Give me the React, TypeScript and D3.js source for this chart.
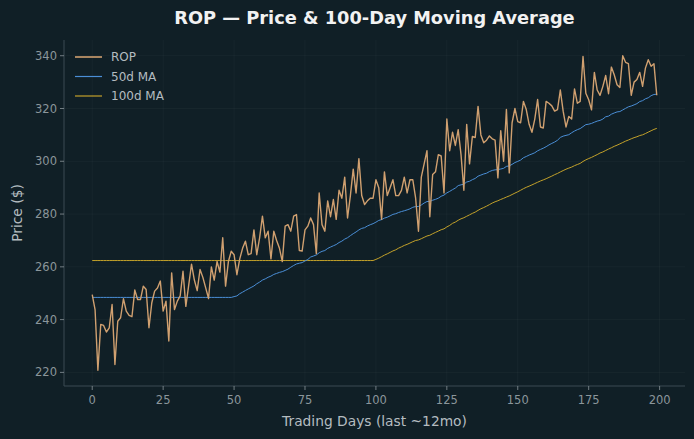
import React from "react";
import * as d3 from "d3";

const TITLE = "ROP — Price & 100-Day Moving Average";
const X_LABEL = "Trading Days (last ~12mo)";
const Y_LABEL = "Price ($)";
const X_TICKS = [0, 25, 50, 75, 100, 125, 150, 175, 200];
const Y_TICKS = [220, 240, 260, 280, 300, 320, 340];
const SERIES_NAMES = ["ROP", "50d MA", "100d MA"];

// Daily closing price, trading days 0..199
const PRICE = [
  249.5, 243.8, 220.8, 238.2, 237.8, 235.3, 236.9, 245.7, 223.0, 239.4,
  240.7, 247.9, 243.2, 241.6, 241.1, 251.2, 247.6, 247.6, 252.7, 251.4,
  236.9, 246.4, 250.8, 252.0, 254.6, 243.2, 247.0, 231.9, 257.7, 243.8,
  247.0, 249.0, 258.3, 245.0, 253.0, 261.0, 255.0, 251.0, 259.0, 256.0,
  252.0, 248.0, 260.0, 255.0, 262.0, 258.0, 271.0, 252.7, 262.0, 265.9,
  264.6, 257.0, 263.0, 267.0, 269.7, 264.6, 265.0, 274.0, 264.6, 271.0,
  279.2, 271.0, 273.5, 263.0, 273.5, 270.0, 267.0, 262.0, 275.4, 276.0,
  273.5, 279.2, 279.8, 266.2, 266.0, 274.0, 275.4, 278.5, 276.0, 265.0,
  288.0, 276.0, 273.5, 285.0, 279.0, 285.5, 278.0, 289.0, 286.0, 294.0,
  278.5, 287.0, 297.0, 288.0, 301.0, 287.0, 283.6, 285.0, 286.0, 286.0,
  293.0, 290.0, 278.0, 296.0, 287.0, 290.0, 293.0, 287.0, 287.0, 289.0,
  294.0, 288.0, 293.0, 293.0, 286.0, 273.5, 294.0, 299.0, 304.0, 279.0,
  295.0, 296.0, 302.5, 302.0, 288.0, 316.0, 304.0, 311.0, 306.0, 312.0,
  302.5, 289.0, 314.0, 299.0, 309.4, 309.0, 320.8, 310.0, 307.0, 308.0,
  309.6, 308.5, 308.0, 293.7, 311.6, 300.0, 319.6, 295.6, 314.6, 320.0,
  315.0, 314.6, 322.7, 319.6, 314.0, 311.0, 316.0, 323.4, 313.0, 312.6,
  322.7, 322.0, 321.0, 319.0, 319.6, 327.0, 319.0, 313.0, 317.0, 316.0,
  327.4, 322.0, 322.7, 339.7, 325.8, 323.3, 319.5, 333.7, 327.0, 325.0,
  328.4, 332.5, 325.6, 335.7, 332.8, 329.0, 328.0, 340.0, 337.5, 337.0,
  325.0, 330.0, 331.0, 333.7, 328.4, 335.3, 338.5, 336.0, 337.0, 325.0,
];

const MA_WINDOWS = [50, 100];

function rollingMean(values: number[], w: number): number[] {
  const out: (number | null)[] = values.map((_, i) =>
    i < w - 1 ? null : (d3.mean(values.slice(i - w + 1, i + 1)) as number)
  );
  const firstValid = out.find((v) => v !== null) as number;
  return out.map((v) => (v === null ? firstValid : v));
}

const W = 694;
const H = 439;
const M = { left: 64, right: 685, top: 40, bottom: 386 };

const BG = "#101f26";
const C_PRICE = "#d0a070";
const C_MA50 = "#4a8ed6";
const C_MA100 = "#c4a22a";
const C_TICK = "#8b969b";
const C_LABEL = "#b4bcc0";
const C_SPINE = "#3b4a52";
const FONT = "'DejaVu Sans', sans-serif";

export default function App() {
  const ma50 = rollingMean(PRICE, MA_WINDOWS[0]);
  const ma100 = rollingMean(PRICE, MA_WINDOWS[1]);

  const xmin = 0;
  const xmax = PRICE.length - 1;
  const xpad = (xmax - xmin) * 0.05;
  const x = d3.scaleLinear().domain([xmin - xpad, xmax + xpad]).range([M.left, M.right]);

  const allY = [...PRICE, ...ma50, ...ma100];
  const ymin = d3.min(allY) as number;
  const ymax = d3.max(allY) as number;
  const ypad = (ymax - ymin) * 0.05;
  const y = d3.scaleLinear().domain([ymin - ypad, ymax + ypad]).range([M.bottom, M.top]);

  const line = d3
    .line<number>()
    .x((_, i) => x(i))
    .y((d) => y(d));

  const series = [
    { name: SERIES_NAMES[0], data: PRICE, color: C_PRICE, width: 1.4 },
    { name: SERIES_NAMES[1], data: ma50, color: C_MA50, width: 1.0 },
    { name: SERIES_NAMES[2], data: ma100, color: C_MA100, width: 1.0 },
  ];

  return (
    <svg
      width={W}
      height={H}
      style={{ position: "absolute", left: 0, top: 0, background: BG, fontFamily: FONT }}
    >
      <rect x={0} y={0} width={W} height={H} fill={BG} />
      <g stroke="#ffffff" strokeOpacity={0.045} strokeWidth={0.8}>
        {X_TICKS.map((t) => (
          <line key={"gx" + t} x1={x(t)} x2={x(t)} y1={M.top} y2={M.bottom} />
        ))}
        {Y_TICKS.map((t) => (
          <line key={"gy" + t} x1={M.left} x2={M.right} y1={y(t)} y2={y(t)} />
        ))}
      </g>
      <defs>
        <clipPath id="plotclip">
          <rect x={M.left} y={M.top} width={M.right - M.left} height={M.bottom - M.top} />
        </clipPath>
      </defs>
      <g clipPath="url(#plotclip)">
        {series
          .slice()
          .reverse()
          .map((s) => (
            <path
              key={s.name}
              d={line(s.data) || ""}
              fill="none"
              stroke={s.color}
              strokeWidth={s.width}
              strokeLinejoin="round"
            />
          ))}
      </g>
      <line x1={M.left} x2={M.left} y1={M.top} y2={M.bottom} stroke={C_SPINE} strokeWidth={1} />
      <line x1={M.left} x2={M.right} y1={M.bottom} y2={M.bottom} stroke={C_SPINE} strokeWidth={1} />
      {X_TICKS.map((t) => (
        <g key={"xt" + t}>
          <line x1={x(t)} x2={x(t)} y1={M.bottom} y2={M.bottom + 4} stroke={C_TICK} strokeWidth={0.8} />
          <text x={x(t)} y={M.bottom + 18} textAnchor="middle" fontSize={11.5} fill={C_TICK}>
            {t}
          </text>
        </g>
      ))}
      {Y_TICKS.map((t) => (
        <g key={"yt" + t}>
          <line x1={M.left - 4} x2={M.left} y1={y(t)} y2={y(t)} stroke={C_TICK} strokeWidth={0.8} />
          <text x={M.left - 7} y={y(t)} dy="0.35em" textAnchor="end" fontSize={11.5} fill={C_TICK}>
            {t}
          </text>
        </g>
      ))}
      <text x={(M.left + M.right) / 2} y={426} textAnchor="middle" fontSize={13.8} fill={C_LABEL}>
        {X_LABEL}
      </text>
      <text
        transform={`translate(22,${(M.top + M.bottom) / 2}) rotate(-90)`}
        textAnchor="middle"
        fontSize={13.8}
        fill={C_LABEL}
      >
        {Y_LABEL}
      </text>
      <text
        x={(M.left + M.right) / 2}
        y={24}
        textAnchor="middle"
        fontSize={17.8}
        fontWeight="bold"
        fill="#f2f2f2"
      >
        {TITLE}
      </text>
      {series.map((s, i) => (
        <g key={"lg" + s.name} transform={`translate(75,${57 + i * 19.5})`}>
          <line x1={0} x2={27} y1={0} y2={0} stroke={s.color} strokeWidth={i === 0 ? 1.6 : 1.2} />
          <text x={36} y={0} dy="0.35em" fontSize={12} fill={C_LABEL}>
            {s.name}
          </text>
        </g>
      ))}
    </svg>
  );
}
